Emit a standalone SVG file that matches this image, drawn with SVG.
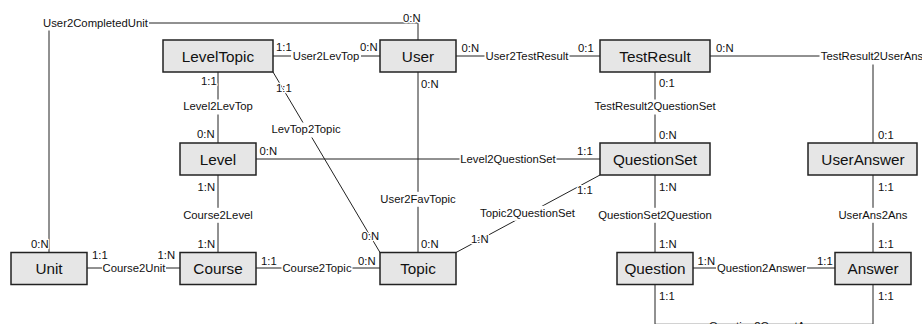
<svg xmlns="http://www.w3.org/2000/svg" width="922" height="324" viewBox="0 0 922 324">
<style>
  .node rect { fill: #e6e6e6; stroke: #222; stroke-width: 1.5; }
  .node text { font-family: "Liberation Sans", Arial, sans-serif; font-size: 15.3px; fill: #111; text-anchor: middle; }
  .conn path { fill: none; stroke: #222; stroke-width: 1; }
  .bg { fill: #fff; }
  .lbl { font-family: "Liberation Sans", Arial, sans-serif; font-size: 11.3px; fill: #111; text-anchor: middle; }
  .card { font-family: "Liberation Sans", Arial, sans-serif; font-size: 11.3px; fill: #111; paint-order: stroke; stroke: #fff; stroke-width: 2.5px; stroke-linejoin: round; }
</style>
<rect x="0" y="0" width="922" height="324" fill="#fff"/>
<g id="connectors" class="conn">
  <path d="M49,252.5 V23 H418 V40"/>
  <path d="M273,56 H380"/>
  <path d="M456,56 H600"/>
  <path d="M710,56 H873 V143"/>
  <path d="M655,72 V143"/>
  <path d="M218,72 V143"/>
  <path d="M273,72 L380,252.5"/>
  <path d="M256,159 H600"/>
  <path d="M418,72 V252.5"/>
  <path d="M456,252.5 L600,175"/>
  <path d="M655,175 V252.5"/>
  <path d="M873,175 V252.5"/>
  <path d="M218,175 V252.5"/>
  <path d="M87,268 H180"/>
  <path d="M256,268 H380"/>
  <path d="M693,268 H835"/>
  <path d="M655,284.5 V324.3 H873 V284.5"/>
</g>
<g id="connector-labels">
  <rect class="bg" x="42" y="16.5" width="107" height="14"/>
  <text class="lbl" x="95.5" y="27.3">User2CompletedUnit</text>
  <rect class="bg" x="291" y="49.5" width="70" height="14"/>
  <text class="lbl" x="326" y="60">User2LevTop</text>
  <rect class="bg" x="484.5" y="49.5" width="85" height="14"/>
  <text class="lbl" x="527" y="60">User2TestResult</text>
  <rect class="bg" x="819.5" y="49.5" width="105" height="15"/>
  <text class="lbl" x="872" y="60">TestResult2UserAns</text>
  <rect class="bg" x="593" y="99.5" width="124" height="15"/>
  <text class="lbl" x="655" y="110">TestResult2QuestionSet</text>
  <rect class="bg" x="182" y="99.5" width="72" height="15"/>
  <text class="lbl" x="218" y="110">Level2LevTop</text>
  <rect class="bg" x="269.5" y="122.5" width="73" height="15"/>
  <text class="lbl" x="306" y="133.3">LevTop2Topic</text>
  <rect class="bg" x="459.5" y="152.5" width="97" height="14"/>
  <text class="lbl" x="508" y="163.3">Level2QuestionSet</text>
  <rect class="bg" x="379" y="191.8" width="78" height="15"/>
  <text class="lbl" x="418" y="202.7">User2FavTopic</text>
  <rect class="bg" x="479" y="205.8" width="97" height="15"/>
  <text class="lbl" x="527.5" y="216.7">Topic2QuestionSet</text>
  <rect class="bg" x="597.5" y="207.8" width="115" height="15"/>
  <text class="lbl" x="655" y="218.5">QuestionSet2Question</text>
  <rect class="bg" x="838" y="207.8" width="70" height="15"/>
  <text class="lbl" x="873" y="218.5">UserAns2Ans</text>
  <rect class="bg" x="183" y="207.8" width="70" height="15"/>
  <text class="lbl" x="218" y="218.5">Course2Level</text>
  <rect class="bg" x="102" y="261" width="64" height="14"/>
  <text class="lbl" x="134" y="271.7">Course2Unit</text>
  <rect class="bg" x="281.5" y="261" width="71" height="14"/>
  <text class="lbl" x="317" y="271.7">Course2Topic</text>
  <rect class="bg" x="716" y="261" width="91" height="14"/>
  <text class="lbl" x="761.5" y="271.7">Question2Answer</text>
  <text class="lbl" x="763" y="330">Question2CorrectAns</text>
</g>
<g id="cardinalities">
  <text class="card" x="403" y="21.7">0:N</text>
  <text class="card" x="31" y="247.5">0:N</text>
  <text class="card" x="276" y="51">1:1</text>
  <text class="card" x="360" y="51">0:N</text>
  <text class="card" x="461.5" y="51.5">0:N</text>
  <text class="card" x="578" y="51.5">0:1</text>
  <text class="card" x="716" y="51.5">0:N</text>
  <text class="card" x="878" y="139">0:1</text>
  <text class="card" x="659" y="86.5">0:1</text>
  <text class="card" x="659" y="139">0:N</text>
  <text class="card" x="201" y="85">1:1</text>
  <text class="card" x="197" y="138">0:N</text>
  <text class="card" x="276" y="91.5">1:1</text>
  <text class="card" x="361.5" y="239.5">0:N</text>
  <text class="card" x="259.5" y="155">0:N</text>
  <text class="card" x="577" y="155">1:1</text>
  <text class="card" x="421" y="87.5">0:N</text>
  <text class="card" x="421" y="247.5">0:N</text>
  <text class="card" x="577" y="193.5">1:1</text>
  <text class="card" x="471" y="242.5">1:N</text>
  <text class="card" x="659" y="191">1:N</text>
  <text class="card" x="659" y="247.5">1:N</text>
  <text class="card" x="878" y="191">1:1</text>
  <text class="card" x="878" y="247.5">1:1</text>
  <text class="card" x="197.5" y="190.5">1:N</text>
  <text class="card" x="197.5" y="247.5">1:N</text>
  <text class="card" x="92" y="258.5">1:1</text>
  <text class="card" x="157.5" y="258.5">1:N</text>
  <text class="card" x="261" y="264.5">1:1</text>
  <text class="card" x="358" y="264.5">0:N</text>
  <text class="card" x="697.5" y="264.5">1:N</text>
  <text class="card" x="817" y="264.5">1:1</text>
  <text class="card" x="659" y="300">1:1</text>
  <text class="card" x="878" y="300">1:1</text>
</g>
<g id="LevelTopic" class="node"><rect x="163" y="40" width="110" height="32"/><text x="218" y="61.5">LevelTopic</text></g>
<g id="User" class="node"><rect x="380" y="40" width="76" height="32"/><text x="418" y="61.5">User</text></g>
<g id="TestResult" class="node"><rect x="600" y="40" width="110" height="32"/><text x="655" y="61.5">TestResult</text></g>
<g id="Level" class="node"><rect x="180" y="143" width="76" height="32"/><text x="218" y="164.5">Level</text></g>
<g id="QuestionSet" class="node"><rect x="600" y="143" width="110" height="32"/><text x="655" y="164.5">QuestionSet</text></g>
<g id="UserAnswer" class="node"><rect x="808" y="143" width="109" height="32"/><text x="863" y="164.5">UserAnswer</text></g>
<g id="Unit" class="node"><rect x="11" y="252.5" width="76" height="32"/><text x="49" y="274">Unit</text></g>
<g id="Course" class="node"><rect x="180" y="252.5" width="76" height="32"/><text x="218" y="274">Course</text></g>
<g id="Topic" class="node"><rect x="380" y="252.5" width="76" height="32"/><text x="418" y="274">Topic</text></g>
<g id="Question" class="node"><rect x="617" y="252.5" width="76" height="32"/><text x="655" y="274">Question</text></g>
<g id="Answer" class="node"><rect x="835" y="252.5" width="76" height="32"/><text x="873" y="274">Answer</text></g>
</svg>
